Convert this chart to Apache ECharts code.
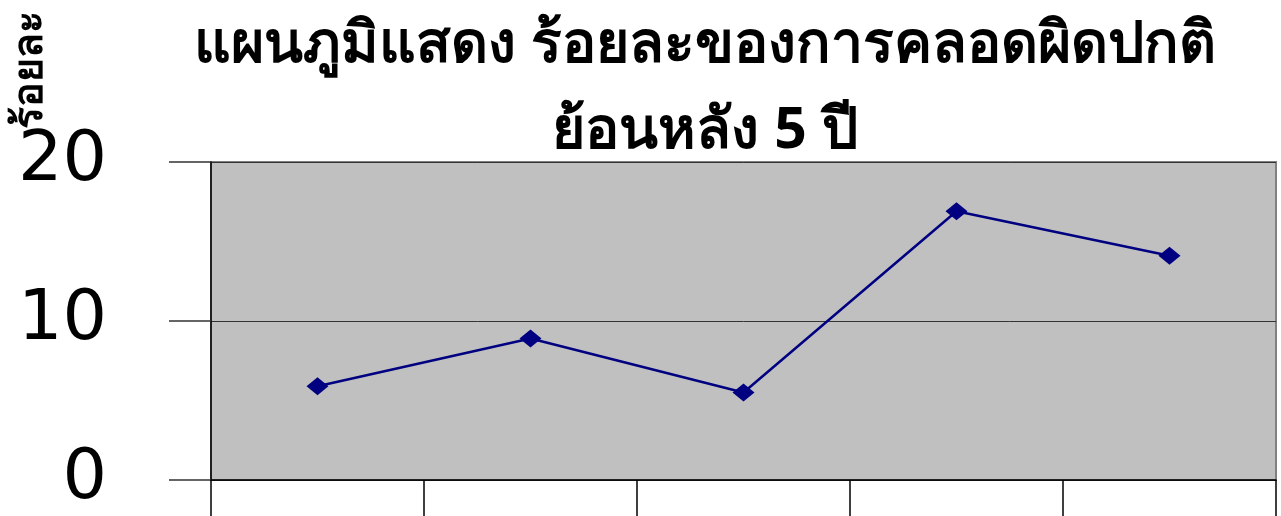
<!DOCTYPE html>
<html>
<head>
<meta charset="utf-8">
<script src="https://cdn.jsdelivr.net/npm/echarts@6/dist/echarts.min.js"></script>
<style>html,body{margin:0;padding:0;background:#fff}#c{width:1281px;height:516px}</style>
</head>
<body>
<div id="c"></div>
<script>
const titleLines = ['แผนภูมิแสดง ร้อยละของการคลอดผิดปกติ', 'ย้อนหลัง 5 ปี'];
const yAxisName = 'ร้อยละ';
const categories = ['ปีที่ 1', 'ปีที่ 2', 'ปีที่ 3', 'ปีที่ 4', 'ปีที่ 5'];
const values = [5.9, 8.9, 5.5, 16.9, 14.1];
const yTicks = { min: 0, max: 20, interval: 10 };

const chart = echarts.init(document.getElementById('c'));
chart.setOption({
  backgroundColor: '#ffffff',
  animation: false,
  title: {
    text: titleLines.join('\n'),
    left: 700,
    top: -2,
    textAlign: 'center',
    textStyle: { fontSize: 57, fontWeight: 'bold', color: '#000', lineHeight: 86, fontFamily: 'Noto Sans, DejaVu Sans, sans-serif' }
  },
  graphic: [{
    type: 'text',
    x: 30, y: 70,
    rotation: Math.PI / 2,
    style: { text: yAxisName, fontSize: 41, fontWeight: 'bold', fill: '#000', align: 'center', verticalAlign: 'middle', fontFamily: 'Noto Sans, DejaVu Sans, sans-serif' }
  }],
  grid: { left: 211, right: 5, top: 162, bottom: 36, show: true, backgroundColor: '#C0C0C0', borderColor: '#808080', borderWidth: 2 },
  xAxis: {
    type: 'category',
    data: categories,
    boundaryGap: true,
    axisLine: { lineStyle: { color: '#000', width: 1.5 } },
    axisTick: { show: true, length: 40, lineStyle: { color: '#000', width: 1.5 } },
    axisLabel: { show: false }
  },
  yAxis: {
    type: 'value',
    min: yTicks.min, max: yTicks.max, interval: yTicks.interval,
    axisLine: { show: true, lineStyle: { color: '#000', width: 1.5 } },
    axisTick: { show: true, length: 42, lineStyle: { color: '#333', width: 1.5 } },
    axisLabel: { margin: 104, fontSize: 70, color: '#000', fontFamily: 'DejaVu Sans' },
    splitLine: { show: true, lineStyle: { color: '#333', width: 1 } }
  },
  series: [{
    type: 'line',
    data: values,
    symbol: 'diamond',
    symbolSize: [22, 18],
    lineStyle: { color: '#000080', width: 2.5 },
    itemStyle: { color: '#000080' }
  }]
});
</script>
</body>
</html>
